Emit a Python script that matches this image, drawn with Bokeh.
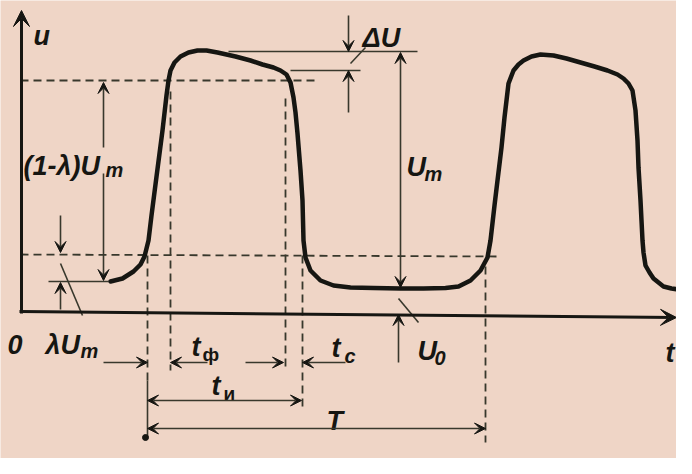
from bokeh.plotting import figure
from bokeh.models import ColumnDataSource, Range1d, Arrow, VeeHead
from bokeh.core.properties import value
from bokeh.embed import file_html
from bokeh.resources import INLINE

# ---------------- data (diagram coordinates, y grows downward) ----------------
wave_t = [110, 122, 133, 140, 144, 148, 151, 155.5, 162, 166,
          168, 170, 174, 180, 188, 197, 206, 217, 235, 250,
          262, 273, 280, 286, 290, 293, 295, 297, 300, 302,
          303, 305, 310, 320, 333, 350, 373, 400, 423, 445,
          458, 470, 480, 487, 490, 494, 497, 501, 504, 508,
          513, 518, 523, 531, 540, 553, 566, 580, 594, 607,
          617, 623, 628, 632, 635, 637, 638, 640, 641, 642,
          643, 645, 649, 653, 663, 671, 678]
wave_u = [281, 278, 271, 264, 256, 240, 215, 180, 130, 95,
          80, 70, 62, 56, 52, 50, 50, 52, 56, 60,
          64, 67, 70, 74, 82, 97, 112, 133, 170, 200,
          240, 257, 270, 280, 285, 287, 287.5, 288, 288, 287.5,
          286, 280, 270, 257, 240, 205, 180, 147, 117, 83,
          70, 64, 60, 56, 54, 55, 58, 62, 66, 70,
          74, 78, 83, 90, 110, 140, 167, 200, 220, 240,
          252, 265, 272, 278, 286, 288, 289]

# coordinate axes (tail -> tip)
axis_x0 = [21, 19]
axis_y0 = [313, 311]
axis_x1 = [21, 676]
axis_y1 = [10, 317]

# dashed guide lines
dash_x0 = [20, 20, 147, 170, 285, 302, 485]
dash_y0 = [80, 254, 255, 91, 98, 255, 266]
dash_x1 = [317, 497, 147, 170, 285, 302, 485]
dash_y1 = [80, 256, 380, 370, 370, 410, 442]

# thin solid lines (extension lines and leaders)
solid_x0 = [228, 290, 48, 147, 350, 398, 60]
solid_y0 = [51, 70, 281, 380, 63, 298, 263]
solid_x1 = [417, 360, 108, 147, 365, 418, 82]
solid_y1 = [51, 70, 281, 437, 47, 322, 315]

# single-headed dimension arrows (tail -> tip)
arr_x0 = [348, 348, 398, 103, 103, 60, 60, 103, 207, 245, 345]
arr_y0 = [15, 112, 362, 147, 173, 215, 309, 362, 362, 362, 362]
arr_x1 = [348, 348, 398, 103, 103, 60, 60, 147, 170, 283, 302]
arr_y1 = [51, 70, 314, 82, 280, 252, 282, 362, 362, 362, 362]

# double-headed dimension arrows: U_m, t_и, T
dbl_x0 = [400, 147, 147]
dbl_y0 = [52, 400, 428]
dbl_x1 = [400, 301, 485]
dbl_y1 = [287, 400, 428]

# dot at the start of T
dot_x = [145]
dot_y = [437]

# labels
main_text = ["u", "ΔU", "U", "(1-λ)U", "0", "λU", "t", "t", "t", "T", "U", "t"]
main_x = [33, 362, 406, 23, 7, 45, 191, 331, 211, 326, 417, 665]
main_y = [35, 37, 166, 165, 344, 344, 346, 347, 385, 420, 350, 352]
sub_text = ["m", "m", "m", "c", "0"]
sub_x = [424, 105, 80, 344, 434]
sub_y = [173, 169, 350, 355, 357]
cyr_text = ["ф", "и"]
cyr_x = [202, 223]
cyr_y = [354, 393]

# ---------------- styling ----------------
BG = "#EFD5C6"
INK = "#161612"
THIN = "#38382c"
FONT = value("Liberation Sans")

p = figure(width=676, height=458,
           x_range=Range1d(0, 676), y_range=Range1d(458, 0),
           output_backend="svg", toolbar_location=None,
           x_axis_location=None, y_axis_location=None, min_border=0)
p.grid.visible = False
p.outline_line_color = None
p.background_fill_color = BG
p.border_fill_color = BG

# dashed guides
p.segment(x0=dash_x0, y0=dash_y0, x1=dash_x1, y1=dash_y1,
          line_color=THIN, line_width=1.8, line_dash="8 5")

# thin solid lines
p.segment(x0=solid_x0, y0=solid_y0, x1=solid_x1, y1=solid_y1,
          line_color=THIN, line_width=1.6)

# axes with arrowheads
axis_src = ColumnDataSource(dict(x0=axis_x0, y0=axis_y0, x1=axis_x1, y1=axis_y1))
p.add_layout(Arrow(source=axis_src, x_start="x0", y_start="y0", x_end="x1", y_end="y1",
                   line_color=INK, line_width=3,
                   end=VeeHead(size=16, fill_color=INK, line_color=INK, line_width=1)))

# single arrows
arr_src = ColumnDataSource(dict(x0=arr_x0, y0=arr_y0, x1=arr_x1, y1=arr_y1))
p.add_layout(Arrow(source=arr_src, x_start="x0", y_start="y0", x_end="x1", y_end="y1",
                   line_color=THIN, line_width=1.6,
                   end=VeeHead(size=11, fill_color=INK, line_color=INK, line_width=1)))

# double arrows
dbl_src = ColumnDataSource(dict(x0=dbl_x0, y0=dbl_y0, x1=dbl_x1, y1=dbl_y1))
p.add_layout(Arrow(source=dbl_src, x_start="x0", y_start="y0", x_end="x1", y_end="y1",
                   line_color=THIN, line_width=1.6,
                   start=VeeHead(size=11, fill_color=INK, line_color=INK, line_width=1),
                   end=VeeHead(size=11, fill_color=INK, line_color=INK, line_width=1)))

p.scatter(x=dot_x, y=dot_y, size=6, color=INK)

# waveform
p.line(x=wave_t, y=wave_u, line_color=INK, line_width=4.5,
       line_join="round", line_cap="round")

# labels
p.text(x=main_x, y=main_y, text=main_text, text_font=FONT, text_font_style="bold italic",
       text_font_size="27px", text_color=INK, text_align="left",
       text_baseline="alphabetic")
p.text(x=sub_x, y=sub_y, text=sub_text, text_font=FONT, text_font_style="bold italic",
       text_font_size="20px", text_color=INK, text_align="left",
       text_baseline="alphabetic")
p.text(x=cyr_x, y=cyr_y, text=cyr_text, text_font=FONT, text_font_style="bold",
       text_font_size="19px", text_color=INK, text_align="left",
       text_baseline="alphabetic")

open("out.html", "w").write(file_html(p, INLINE))
